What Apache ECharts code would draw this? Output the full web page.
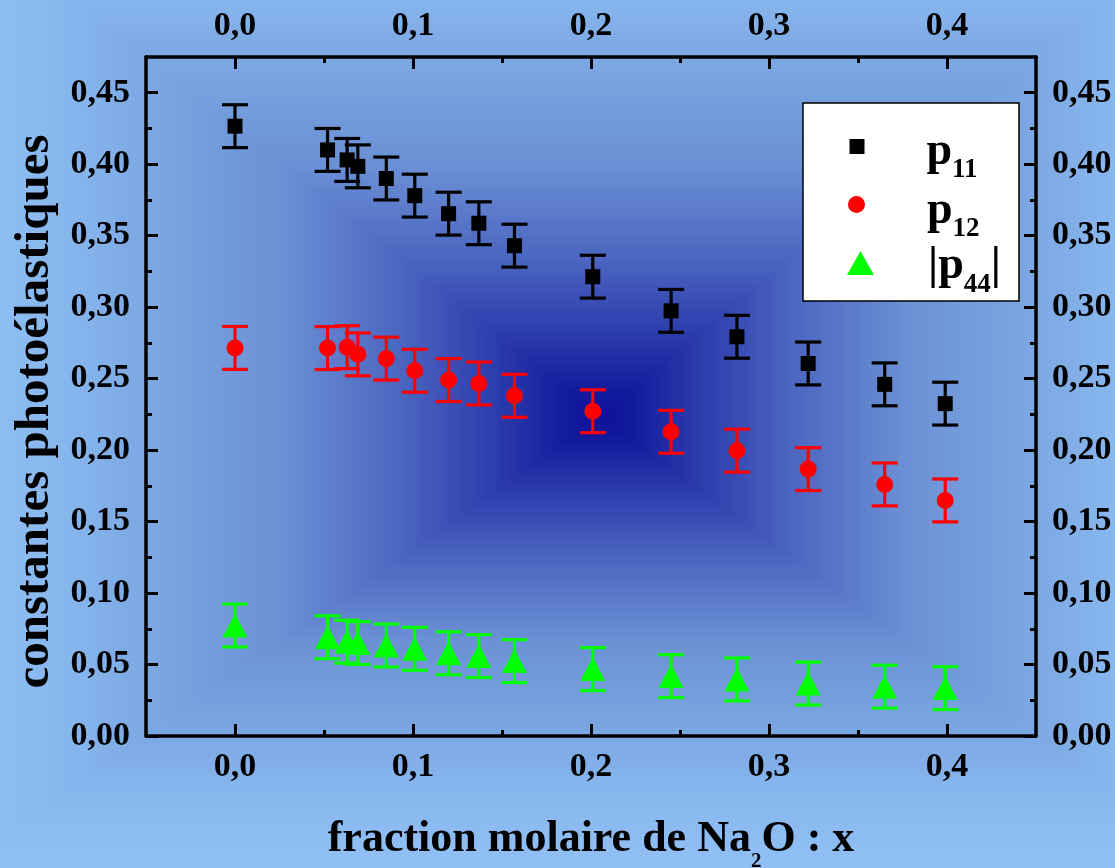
<!DOCTYPE html>
<html>
<head>
<meta charset="utf-8">
<script src="https://cdn.jsdelivr.net/npm/echarts@6/dist/echarts.min.js"></script>
<style>
html, body { margin: 0; padding: 0; background: #8fbff5; }
#chart { width: 1115px; height: 868px; }
</style>
</head>
<body>
<div id="chart"></div>
<script>
// ---------- data ----------
const xFraction = [0.000, 0.052, 0.063, 0.069, 0.085, 0.101, 0.120, 0.137, 0.157, 0.201, 0.245, 0.282, 0.322, 0.365, 0.399];
const p11 = [0.4266, 0.4100, 0.4030, 0.3985, 0.3900, 0.3780, 0.3654, 0.3587, 0.3430, 0.3213, 0.2974, 0.2793, 0.2606, 0.2460, 0.2325];
const p12 = [0.2715, 0.2714, 0.2720, 0.2670, 0.2640, 0.2555, 0.2490, 0.2466, 0.2380, 0.2272, 0.2128, 0.1996, 0.1867, 0.1760, 0.1648];
const p44 = [0.0773, 0.0691, 0.0660, 0.0650, 0.0633, 0.0610, 0.0579, 0.0559, 0.0524, 0.0468, 0.0419, 0.0396, 0.0367, 0.0345, 0.0335];
const p11Err = [0.015, 0.015, 0.015, 0.015, 0.015, 0.015, 0.015, 0.015, 0.015, 0.015, 0.015, 0.015, 0.015, 0.015, 0.015];
const p12Err = [0.015, 0.015, 0.015, 0.015, 0.015, 0.015, 0.015, 0.015, 0.015, 0.015, 0.015, 0.015, 0.015, 0.015, 0.015];
const p44Err = [0.015, 0.015, 0.015, 0.015, 0.015, 0.015, 0.015, 0.015, 0.015, 0.015, 0.015, 0.015, 0.015, 0.015, 0.015];
const seriesNames = ['p11', 'p12', '|p44|'];
const legendLabels = ['{p|p}{s|11}', '{p|p}{s|12}', '{p||p}{s|44}{p||}'];
const xTicks = [0, 0.1, 0.2, 0.3, 0.4];
const xMinorTicks = [0.05, 0.15, 0.25, 0.35];
const yTicks = [0, 0.05, 0.10, 0.15, 0.20, 0.25, 0.30, 0.35, 0.40, 0.45];
const yMinorTicks = [0.025, 0.075, 0.125, 0.175, 0.225, 0.275, 0.325, 0.375, 0.425];
const xTitle = '{n|fraction molaire de Na}{s|2}{n|O : x}';
const yTitle = 'constantes photoélastiques';

// ---------- styling ----------
const FONT = "'Liberation Serif', 'Times New Roman', serif";
const G = { left: 146, top: 57, width: 890, height: 679 };
const C = [600, 417]; // centre of background gradient

const chart = echarts.init(document.getElementById('chart'), null, { renderer: 'canvas' });

const labelStyle = { fontFamily: FONT, fontWeight: 'bold', fontSize: 34, color: '#000' };
const fmtX = v => v.toFixed(1).replace('.', ',');
const fmtY = v => v.toFixed(2).replace('.', ',');

function xAxisDef(pos, minor) {
  return {
    type: 'value', position: pos, min: -0.05, max: 0.45, gridIndex: 0,
    axisLine: { show: !minor, onZero: false, lineStyle: { color: '#000', width: 3.5 } },
    axisTick: { show: true, inside: true, length: minor ? 6 : 12, customValues: minor ? xMinorTicks : xTicks,
                lineStyle: { color: '#000', width: 3 } },
    axisLabel: minor ? { show: false } : Object.assign({ show: true, margin: 14, customValues: xTicks, formatter: fmtX }, labelStyle),
    splitLine: { show: false }
  };
}
function yAxisDef(pos, minor) {
  return {
    type: 'value', position: pos, min: 0, max: 0.475, gridIndex: 0,
    axisLine: { show: !minor, onZero: false, lineStyle: { color: '#000', width: 3.5 } },
    axisTick: { show: true, inside: true, length: minor ? 6 : 12, customValues: minor ? yMinorTicks : yTicks,
                lineStyle: { color: '#000', width: 3 } },
    axisLabel: minor ? { show: false } : Object.assign({ show: true, margin: 16, customValues: yTicks, formatter: fmtY }, labelStyle),
    splitLine: { show: false }
  };
}

const xAxes = [xAxisDef('bottom', false), xAxisDef('top', false), xAxisDef('bottom', true), xAxisDef('top', true)];
Object.assign(xAxes[0], {
  name: xTitle, nameLocation: 'middle', nameGap: 82,
  nameTextStyle: {
    fontFamily: FONT, fontWeight: 'bold', fontSize: 44, color: '#000',
    rich: {
      n: { fontFamily: FONT, fontWeight: 'bold', fontSize: 44, color: '#000', lineHeight: 44, verticalAlign: 'top' },
      s: { fontFamily: FONT, fontWeight: 'bold', fontSize: 21, color: '#000', lineHeight: 54, verticalAlign: 'bottom' }
    }
  }
});
const yAxes = [yAxisDef('left', false), yAxisDef('right', false), yAxisDef('left', true), yAxisDef('right', true)];
Object.assign(yAxes[0], {
  name: yTitle, nameLocation: 'middle', nameGap: 86, nameRotate: 90,
  nameTextStyle: { fontFamily: FONT, fontWeight: 'bold', fontSize: 49, color: '#000', padding: [0, 30, 0, 0] }
});

function errorBar(color) {
  return function (params, api) {
    const x = api.value(0), y = api.value(1), e = api.value(2);
    const top = api.coord([x, y + e]);
    const bot = api.coord([x, y - e]);
    const hw = 13;
    const st = { stroke: color, lineWidth: 3.2, fill: null };
    return {
      type: 'group', children: [
        { type: 'line', shape: { x1: top[0], y1: top[1], x2: bot[0], y2: bot[1] }, style: st },
        { type: 'line', shape: { x1: top[0] - hw, y1: top[1], x2: top[0] + hw, y2: top[1] }, style: st },
        { type: 'line', shape: { x1: bot[0] - hw, y1: bot[1], x2: bot[0] + hw, y2: bot[1] }, style: st }
      ]
    };
  };
}

const colors = ['#000000', '#ff0000', '#00ff00'];
const symbols = ['rect', 'circle', 'triangle'];
const sizes = [15, 17, [25, 24]];
const values = [p11, p12, p44];
const errs = [p11Err, p12Err, p44Err];

const series = [];
seriesNames.forEach((name, k) => {
  series.push({
    type: 'custom', name: name + ' err', xAxisIndex: 0, yAxisIndex: 0, z: 2,
    renderItem: errorBar(colors[k]),
    data: xFraction.map((x, i) => [x, values[k][i], errs[k][i]]),
    encode: { x: 0, y: 1 }, silent: true
  });
  series.push({
    type: 'scatter', name: name, xAxisIndex: 0, yAxisIndex: 0, z: 3,
    symbol: symbols[k], symbolSize: sizes[k],
    itemStyle: { color: colors[k], opacity: 1 },
    data: xFraction.map((x, i) => [x, values[k][i]])
  });
});

// legend: one component per entry so each icon keeps its own size
const legIcon = [
  { left: 849.5, top: 129, w: 15, h: 15, pad: 57, padTop: 20 },
  { left: 848, top: 188, w: 17, h: 17, pad: 57, padTop: 22 },
  { left: 847, top: 243.5, w: 27, h: 24, pad: 49, padTop: 16 }
];
const legends = seriesNames.map((name, k) => ({
  data: [name], left: legIcon[k].left, top: legIcon[k].top, orient: 'vertical',
  itemWidth: legIcon[k].w, itemHeight: legIcon[k].h, padding: 0, z: 10,
  selectedMode: false,
  formatter: () => legendLabels[k],
  textStyle: {
    color: '#000', fontFamily: FONT, fontWeight: 'bold', fontSize: 46,
    padding: [legIcon[k].padTop, 0, 0, legIcon[k].pad],
    rich: {
      p: { fontFamily: FONT, fontWeight: 'bold', fontSize: 46, color: '#000', lineHeight: 46, verticalAlign: 'top' },
      s: { fontFamily: FONT, fontWeight: 'bold', fontSize: 27, color: '#000', lineHeight: 55, verticalAlign: 'bottom' }
    }
  }
}));

// background: rectangular gradient centred in the plot (4 triangles)
const corners = [[G.left, G.top], [G.left + G.width, G.top], [G.left + G.width, G.top + G.height], [G.left, G.top + G.height]];
const ext = p => [C[0] + 4 * (p[0] - C[0]), C[1] + 4 * (p[1] - C[1])];
const stops = [
  [0, '#0b1199'], [0.08, '#141c9e'], [0.22, '#2a3aab'], [0.45, '#4d67c1'], [0.7, '#6b90d5'],
  [1.0, '#7ca8e3'], [1.2, '#89b8ef'], [1.5, '#93c3f8']
];
const T = 1.5;
function grad(x2, y2) {
  return { type: 'linear', x: C[0], y: C[1], x2: x2, y2: y2, global: true,
           colorStops: stops.map(s => ({ offset: s[0] / T, color: s[1] })) };
}
const halfTop = C[1] - G.top, halfBot = G.top + G.height - C[1];
const halfLeft = C[0] - G.left, halfRight = G.left + G.width - C[0];
const bgFills = [
  grad(C[0], C[1] - T * halfTop),
  grad(C[0] + T * halfRight, C[1]),
  grad(C[0], C[1] + T * halfBot),
  grad(C[0] - T * halfLeft, C[1])
];
const bgGraphics = [0, 1, 2, 3].map(i => ({
  type: 'polygon', z: -100, silent: true,
  shape: { points: [C, ext(corners[i]), ext(corners[(i + 1) % 4])] },
  style: { fill: bgFills[i], stroke: bgFills[i], lineWidth: 1.5 }
}));
bgGraphics.push({
  type: 'rect', z: 5, silent: true,
  shape: { x: 803, y: 103, width: 216, height: 198 },
  style: { fill: '#ffffff', stroke: '#000000', lineWidth: 1.5 }
});

chart.setOption({
  animation: false,
  backgroundColor: 'transparent',
  grid: { left: G.left, top: G.top, width: G.width, height: G.height, containLabel: false, outerBoundsMode: 'none' },
  graphic: { elements: bgGraphics },
  xAxis: xAxes,
  yAxis: yAxes,
  legend: legends,
  series: series
});
</script>
</body>
</html>
